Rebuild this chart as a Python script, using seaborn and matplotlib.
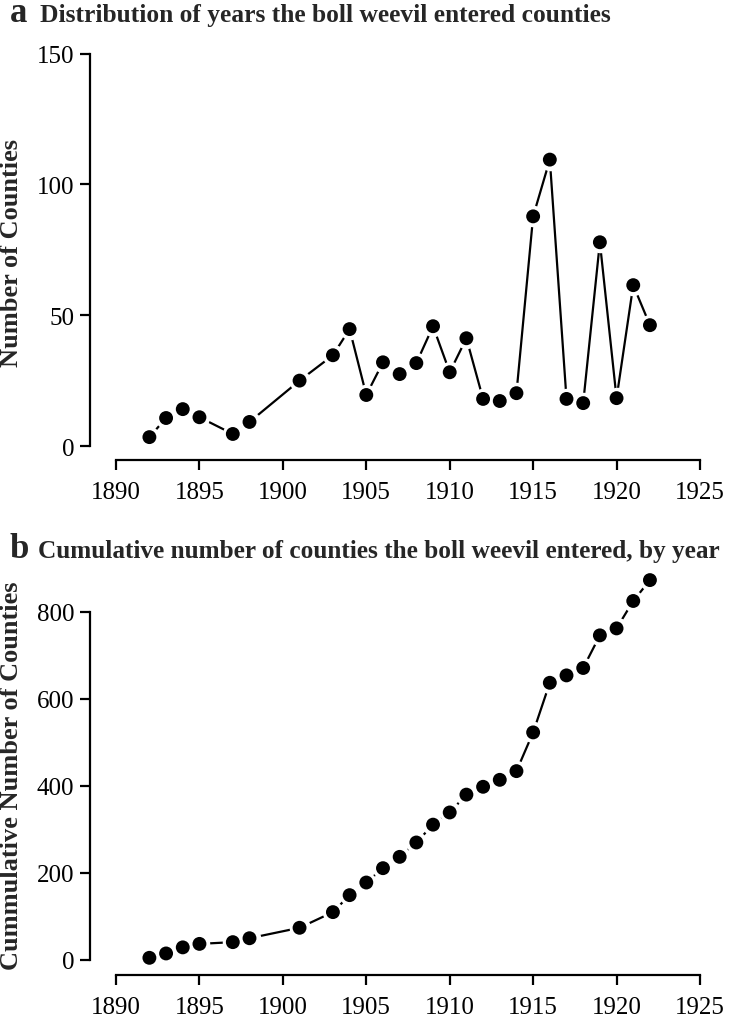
import matplotlib
matplotlib.use("Agg")
import matplotlib.pyplot as plt
import seaborn as sns
import pandas as pd

# years in which the boll weevil first entered counties
years = [1892, 1893, 1894, 1895, 1897, 1898, 1901, 1903, 1904, 1905, 1906,
         1907, 1908, 1909, 1910, 1911, 1912, 1913, 1914, 1915, 1916, 1917,
         1918, 1919, 1920, 1921, 1922]
counties = [3.4, 10.7, 14.1, 11, 4.6, 9.2, 25, 34.7, 44.7, 19.5, 32,
            27.5, 31.7, 45.8, 28.2, 41.2, 18, 17.2, 20.2, 87.8, 109.5, 18,
            16.4, 77.9, 18.3, 61.5, 46.2]
cumulative = [5, 15, 29, 37, 41, 50, 74, 110, 149, 178, 211,
              237, 270, 311, 339, 380, 398, 414, 434, 523, 637, 654,
              671, 746, 762, 825, 873]

x_ticks = [1890, 1895, 1900, 1905, 1910, 1915, 1920, 1925]
top_ticks = [0, 50, 100, 150]
bottom_ticks = [0, 200, 400, 600, 800]

df = pd.DataFrame({"year": years, "n": counties, "cum": cumulative})

sns.set_style("ticks")
plt.rcParams["font.family"] = ["Liberation Serif", "DejaVu Serif"]

W, H = 730, 1020
fig = plt.figure(figsize=(W / 100, H / 100), dpi=100)


def px_axes(left, top, right, bottom):
    return fig.add_axes([left / W, 1 - bottom / H, (right - left) / W, (bottom - top) / H])


def style_axes(ax, yticks, ylabel):
    ax.set_xlim(1888.44, 1926.2)
    for s in ["top", "right"]:
        ax.spines[s].set_visible(False)
    ax.spines["left"].set_bounds(yticks[0], yticks[-1])
    ax.spines["bottom"].set_bounds(x_ticks[0], x_ticks[-1])
    for s in ["left", "bottom"]:
        ax.spines[s].set_linewidth(1.6)
        ax.spines[s].set_color("black")
    ax.set_xticks(x_ticks)
    ax.set_yticks(yticks)
    ax.tick_params(axis="both", length=7.2, width=1.6, color="black",
                   labelsize=18, labelcolor="black")
    ax.tick_params(axis="x", pad=8)
    ax.tick_params(axis="y", pad=4)
    ax.set_xlabel("")
    ax.set_ylabel(ylabel, fontsize=19, fontweight="bold")
    ax.yaxis.set_label_coords(-0.107, 0.5)
    ax.grid(False)


def draw_series(ax, col):
    sns.lineplot(data=df, x="year", y=col, ax=ax, color="black", lw=1.6,
                 marker="o", ms=11.5, mfc="white", mec="white", mew=4,
                 estimator=None, sort=False, zorder=2)
    sns.scatterplot(data=df, x="year", y=col, ax=ax, color="black", s=100,
                    edgecolor="none", zorder=3, clip_on=False)


# a: counties entered per year
ax1 = px_axes(90, 45, 720, 461)
draw_series(ax1, "n")
ax1.set_ylim(-5.35, 153.7)
style_axes(ax1, top_ticks, "Number of Counties")
fig.text(10 / W, 1 - 22 / H, "a", fontsize=25, fontweight="bold", va="baseline")
fig.text(40 / W, 1 - 22 / H, "Distribution of years the boll weevil entered counties",
         fontsize=18.4, fontweight="bold", va="baseline")

# b: cumulative counties
ax2 = px_axes(90, 575, 720, 976)
draw_series(ax2, "cum")
ax2.set_ylim(-34.5, 887)
style_axes(ax2, bottom_ticks, "Cummulative Number of Counties")
fig.text(10 / W, 1 - 558 / H, "b", fontsize=25, fontweight="bold", va="baseline")
fig.text(38 / W, 1 - 558 / H, "Cumulative number of counties the boll weevil entered, by year",
         fontsize=18.2, fontweight="bold", va="baseline")

fig.savefig("out.png", dpi=100)
